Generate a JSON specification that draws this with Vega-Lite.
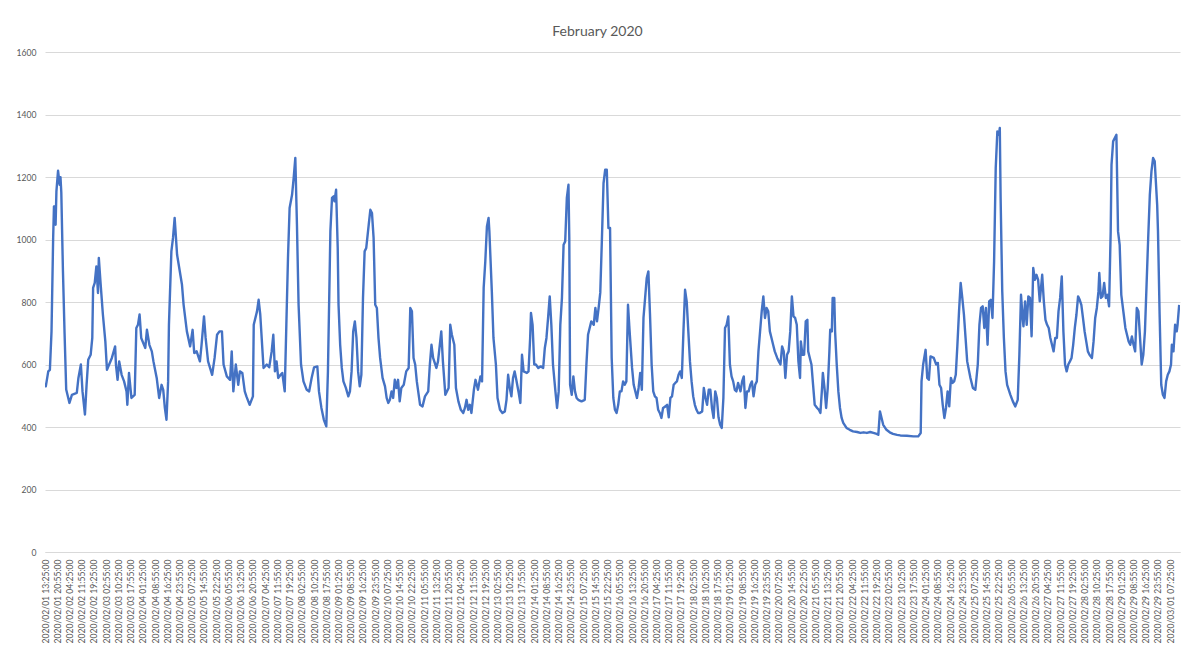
{
"$schema": "https://vega.github.io/schema/vega-lite/v6.json",
"width": 1135,
"height": 500,
"padding": {"left": 15, "top": 25, "right": 15, "bottom": 5},
"background": "white",
"title": {"text": "February 2020", "fontSize": 14, "font": "Lato", "fontWeight": "normal", "color": "#595959", "anchor": "middle", "frame": "bounds", "offset": 9},
"config": {"view": {"stroke": null}, "font": "Lato"},
"data": {"values": [
{"t":"2020-02-01T13:25","v":540},{"t":"2020-02-01T13:55","v":530},{"t":"2020-02-01T15:25","v":578},{"t":"2020-02-01T16:25","v":583},{"t":"2020-02-01T17:25","v":706},{"t":"2020-02-01T18:25","v":1005},{"t":"2020-02-01T18:55","v":1106},{"t":"2020-02-01T19:25","v":1106},{"t":"2020-02-01T19:55","v":1047},{"t":"2020-02-01T20:25","v":1154},{"t":"2020-02-01T21:25","v":1220},{"t":"2020-02-01T22:25","v":1175},{"t":"2020-02-01T22:55","v":1199},{"t":"2020-02-01T23:25","v":1150},
{"t":"2020-02-02T00:25","v":900},{"t":"2020-02-02T01:25","v":700},{"t":"2020-02-02T02:25","v":520},{"t":"2020-02-02T04:25","v":477},{"t":"2020-02-02T05:55","v":503},{"t":"2020-02-02T08:55","v":509},{"t":"2020-02-02T09:55","v":557},{"t":"2020-02-02T11:25","v":600},{"t":"2020-02-02T12:25","v":514},{"t":"2020-02-02T13:55","v":440},{"t":"2020-02-02T14:55","v":535},{"t":"2020-02-02T15:55","v":615},{"t":"2020-02-02T17:25","v":631},{"t":"2020-02-02T18:25","v":685},{"t":"2020-02-02T18:55","v":845},{"t":"2020-02-02T19:55","v":861},{"t":"2020-02-02T20:55","v":914},{"t":"2020-02-02T21:55","v":829},{"t":"2020-02-02T22:25","v":941},{"t":"2020-02-02T23:25","v":866},
{"t":"2020-02-03T00:55","v":760},{"t":"2020-02-03T02:25","v":674},{"t":"2020-02-03T03:25","v":583},{"t":"2020-02-03T06:25","v":621},{"t":"2020-02-03T08:25","v":658},{"t":"2020-02-03T08:55","v":600},{"t":"2020-02-03T09:55","v":551},{"t":"2020-02-03T10:55","v":610},{"t":"2020-02-03T12:25","v":567},{"t":"2020-02-03T13:55","v":546},{"t":"2020-02-03T15:25","v":514},{"t":"2020-02-03T15:55","v":471},{"t":"2020-02-03T16:55","v":573},{"t":"2020-02-03T18:25","v":493},{"t":"2020-02-03T20:25","v":503},{"t":"2020-02-03T21:25","v":717},{"t":"2020-02-03T22:25","v":727},{"t":"2020-02-03T23:25","v":760},
{"t":"2020-02-04T00:25","v":685},{"t":"2020-02-04T02:55","v":653},{"t":"2020-02-04T03:55","v":711},{"t":"2020-02-04T05:25","v":663},{"t":"2020-02-04T06:55","v":642},{"t":"2020-02-04T07:55","v":610},{"t":"2020-02-04T08:55","v":583},{"t":"2020-02-04T09:55","v":557},{"t":"2020-02-04T11:25","v":493},{"t":"2020-02-04T12:55","v":535},{"t":"2020-02-04T13:55","v":519},{"t":"2020-02-04T14:55","v":461},{"t":"2020-02-04T15:55","v":423},{"t":"2020-02-04T16:55","v":546},{"t":"2020-02-04T17:25","v":727},{"t":"2020-02-04T18:55","v":962},{"t":"2020-02-04T19:55","v":1005},{"t":"2020-02-04T20:55","v":1069},{"t":"2020-02-04T22:25","v":951},
{"t":"2020-02-05T01:25","v":855},{"t":"2020-02-05T02:25","v":791},{"t":"2020-02-05T04:25","v":706},{"t":"2020-02-05T06:25","v":658},{"t":"2020-02-05T07:55","v":711},{"t":"2020-02-05T08:55","v":637},{"t":"2020-02-05T10:25","v":642},{"t":"2020-02-05T12:25","v":610},{"t":"2020-02-05T13:25","v":663},{"t":"2020-02-05T14:55","v":754},{"t":"2020-02-05T15:55","v":685},{"t":"2020-02-05T17:25","v":610},{"t":"2020-02-05T19:55","v":567},{"t":"2020-02-05T21:25","v":621},{"t":"2020-02-05T22:55","v":695},
{"t":"2020-02-06T00:25","v":706},{"t":"2020-02-06T01:55","v":706},{"t":"2020-02-06T02:55","v":600},{"t":"2020-02-06T04:55","v":562},{"t":"2020-02-06T06:55","v":551},{"t":"2020-02-06T07:55","v":642},{"t":"2020-02-06T08:55","v":514},{"t":"2020-02-06T10:25","v":600},{"t":"2020-02-06T11:55","v":535},{"t":"2020-02-06T12:55","v":578},{"t":"2020-02-06T14:25","v":573},{"t":"2020-02-06T15:55","v":514},{"t":"2020-02-06T16:55","v":498},{"t":"2020-02-06T18:55","v":471},{"t":"2020-02-06T20:55","v":498},{"t":"2020-02-06T21:25","v":727},{"t":"2020-02-06T23:25","v":770},
{"t":"2020-02-07T00:25","v":807},{"t":"2020-02-07T01:25","v":760},{"t":"2020-02-07T03:25","v":589},{"t":"2020-02-07T05:25","v":600},{"t":"2020-02-07T06:55","v":591},{"t":"2020-02-07T08:25","v":642},{"t":"2020-02-07T09:25","v":695},{"t":"2020-02-07T10:25","v":578},{"t":"2020-02-07T11:25","v":610},{"t":"2020-02-07T12:25","v":557},{"t":"2020-02-07T13:55","v":567},{"t":"2020-02-07T14:55","v":573},{"t":"2020-02-07T16:25","v":514},{"t":"2020-02-07T17:25","v":727},{"t":"2020-02-07T18:25","v":941},{"t":"2020-02-07T19:25","v":1101},{"t":"2020-02-07T20:55","v":1143},{"t":"2020-02-07T21:55","v":1197},{"t":"2020-02-07T22:55","v":1261},{"t":"2020-02-07T23:55","v":1047},
{"t":"2020-02-08T00:55","v":791},{"t":"2020-02-08T02:25","v":600},{"t":"2020-02-08T03:55","v":546},{"t":"2020-02-08T05:55","v":519},{"t":"2020-02-08T07:25","v":514},{"t":"2020-02-08T08:55","v":557},{"t":"2020-02-08T10:25","v":591},{"t":"2020-02-08T12:25","v":594},{"t":"2020-02-08T13:25","v":514},{"t":"2020-02-08T14:55","v":461},{"t":"2020-02-08T16:25","v":423},{"t":"2020-02-08T17:55","v":402},{"t":"2020-02-08T18:55","v":578},{"t":"2020-02-08T20:25","v":1026},{"t":"2020-02-08T21:25","v":1133},{"t":"2020-02-08T22:25","v":1138},{"t":"2020-02-08T22:55","v":1122},{"t":"2020-02-08T23:55","v":1159},
{"t":"2020-02-09T00:55","v":973},{"t":"2020-02-09T01:25","v":791},{"t":"2020-02-09T02:25","v":663},{"t":"2020-02-09T03:25","v":589},{"t":"2020-02-09T04:25","v":546},{"t":"2020-02-09T05:55","v":525},{"t":"2020-02-09T07:25","v":498},{"t":"2020-02-09T08:25","v":514},{"t":"2020-02-09T09:25","v":578},{"t":"2020-02-09T10:25","v":706},{"t":"2020-02-09T11:25","v":738},{"t":"2020-02-09T12:25","v":685},{"t":"2020-02-09T13:25","v":578},{"t":"2020-02-09T14:25","v":530},{"t":"2020-02-09T15:25","v":567},{"t":"2020-02-09T16:25","v":813},{"t":"2020-02-09T17:25","v":962},{"t":"2020-02-09T18:25","v":973},{"t":"2020-02-09T19:55","v":1047},{"t":"2020-02-09T20:55","v":1095},{"t":"2020-02-09T21:55","v":1085},{"t":"2020-02-09T22:55","v":1005},{"t":"2020-02-09T23:55","v":791},
{"t":"2020-02-10T00:55","v":781},{"t":"2020-02-10T01:55","v":685},{"t":"2020-02-10T02:55","v":621},{"t":"2020-02-10T04:25","v":557},{"t":"2020-02-10T05:55","v":530},{"t":"2020-02-10T06:55","v":493},{"t":"2020-02-10T07:55","v":477},{"t":"2020-02-10T08:55","v":487},{"t":"2020-02-10T09:55","v":514},{"t":"2020-02-10T10:55","v":493},{"t":"2020-02-10T11:55","v":551},{"t":"2020-02-10T12:55","v":525},{"t":"2020-02-10T13:55","v":551},{"t":"2020-02-10T14:55","v":482},{"t":"2020-02-10T15:55","v":525},{"t":"2020-02-10T17:25","v":535},{"t":"2020-02-10T18:55","v":578},{"t":"2020-02-10T20:25","v":589},{"t":"2020-02-10T21:25","v":781},{"t":"2020-02-10T22:25","v":770},{"t":"2020-02-10T23:25","v":621},
{"t":"2020-02-11T00:25","v":600},{"t":"2020-02-11T01:25","v":546},{"t":"2020-02-11T03:25","v":471},{"t":"2020-02-11T04:55","v":466},{"t":"2020-02-11T06:25","v":498},{"t":"2020-02-11T08:25","v":514},{"t":"2020-02-11T09:25","v":600},{"t":"2020-02-11T10:25","v":663},{"t":"2020-02-11T11:25","v":621},{"t":"2020-02-11T13:25","v":589},{"t":"2020-02-11T14:25","v":610},{"t":"2020-02-11T16:25","v":706},{"t":"2020-02-11T17:25","v":610},{"t":"2020-02-11T18:55","v":503},{"t":"2020-02-11T20:55","v":525},{"t":"2020-02-11T21:55","v":727},{"t":"2020-02-11T22:55","v":695},
{"t":"2020-02-12T00:25","v":663},{"t":"2020-02-12T01:25","v":525},{"t":"2020-02-12T02:55","v":482},{"t":"2020-02-12T04:25","v":455},{"t":"2020-02-12T05:55","v":445},{"t":"2020-02-12T06:55","v":461},{"t":"2020-02-12T07:55","v":487},{"t":"2020-02-12T08:55","v":455},{"t":"2020-02-12T09:55","v":471},{"t":"2020-02-12T10:55","v":445},{"t":"2020-02-12T12:25","v":519},{"t":"2020-02-12T13:25","v":551},{"t":"2020-02-12T14:55","v":519},{"t":"2020-02-12T16:25","v":562},{"t":"2020-02-12T17:25","v":546},{"t":"2020-02-12T18:25","v":845},{"t":"2020-02-12T19:25","v":930},{"t":"2020-02-12T20:25","v":1042},{"t":"2020-02-12T21:25","v":1069},{"t":"2020-02-12T21:55","v":1026},{"t":"2020-02-12T23:25","v":834},
{"t":"2020-02-13T00:25","v":685},{"t":"2020-02-13T01:55","v":600},{"t":"2020-02-13T02:55","v":493},{"t":"2020-02-13T04:25","v":455},{"t":"2020-02-13T05:55","v":445},{"t":"2020-02-13T07:25","v":450},{"t":"2020-02-13T08:25","v":487},{"t":"2020-02-13T09:25","v":567},{"t":"2020-02-13T10:25","v":525},{"t":"2020-02-13T11:25","v":498},{"t":"2020-02-13T12:25","v":557},{"t":"2020-02-13T13:25","v":578},{"t":"2020-02-13T14:25","v":551},{"t":"2020-02-13T15:55","v":509},{"t":"2020-02-13T16:55","v":477},{"t":"2020-02-13T17:55","v":631},{"t":"2020-02-13T18:55","v":578},{"t":"2020-02-13T20:55","v":573},{"t":"2020-02-13T21:55","v":578},{"t":"2020-02-13T22:55","v":685},{"t":"2020-02-13T23:25","v":765},
{"t":"2020-02-14T00:25","v":727},{"t":"2020-02-14T01:25","v":600},{"t":"2020-02-14T02:25","v":600},{"t":"2020-02-14T03:55","v":589},{"t":"2020-02-14T05:25","v":594},{"t":"2020-02-14T06:55","v":589},{"t":"2020-02-14T07:55","v":653},{"t":"2020-02-14T08:55","v":685},{"t":"2020-02-14T09:55","v":749},{"t":"2020-02-14T10:55","v":818},{"t":"2020-02-14T11:55","v":727},{"t":"2020-02-14T12:55","v":600},{"t":"2020-02-14T14:25","v":514},{"t":"2020-02-14T15:25","v":461},{"t":"2020-02-14T16:25","v":514},{"t":"2020-02-14T17:25","v":727},{"t":"2020-02-14T18:25","v":813},{"t":"2020-02-14T19:25","v":983},{"t":"2020-02-14T20:25","v":994},{"t":"2020-02-14T21:25","v":1133},{"t":"2020-02-14T22:25","v":1175},{"t":"2020-02-14T22:55","v":1005},{"t":"2020-02-14T23:25","v":535},
{"t":"2020-02-15T00:25","v":503},{"t":"2020-02-15T01:25","v":562},{"t":"2020-02-15T02:25","v":514},{"t":"2020-02-15T03:25","v":493},{"t":"2020-02-15T04:25","v":487},{"t":"2020-02-15T06:25","v":482},{"t":"2020-02-15T08:25","v":487},{"t":"2020-02-15T09:25","v":600},{"t":"2020-02-15T10:25","v":695},{"t":"2020-02-15T11:25","v":717},{"t":"2020-02-15T12:25","v":738},{"t":"2020-02-15T13:55","v":727},{"t":"2020-02-15T14:55","v":781},{"t":"2020-02-15T15:55","v":738},{"t":"2020-02-15T16:55","v":781},{"t":"2020-02-15T17:55","v":830},{"t":"2020-02-15T18:55","v":1000},{"t":"2020-02-15T19:55","v":1180},{"t":"2020-02-15T20:55","v":1223},{"t":"2020-02-15T21:55","v":1223},{"t":"2020-02-15T22:55","v":1037},{"t":"2020-02-15T23:55","v":1037},
{"t":"2020-02-16T00:55","v":621},{"t":"2020-02-16T01:55","v":493},{"t":"2020-02-16T02:55","v":455},{"t":"2020-02-16T03:55","v":445},{"t":"2020-02-16T04:55","v":471},{"t":"2020-02-16T05:55","v":514},{"t":"2020-02-16T06:55","v":514},{"t":"2020-02-16T07:55","v":546},{"t":"2020-02-16T08:55","v":535},{"t":"2020-02-16T09:55","v":546},{"t":"2020-02-16T10:55","v":791},{"t":"2020-02-16T11:55","v":706},{"t":"2020-02-16T13:25","v":589},{"t":"2020-02-16T14:25","v":535},{"t":"2020-02-16T15:25","v":514},{"t":"2020-02-16T16:25","v":493},{"t":"2020-02-16T17:25","v":525},{"t":"2020-02-16T18:25","v":573},{"t":"2020-02-16T19:25","v":519},{"t":"2020-02-16T20:25","v":749},{"t":"2020-02-16T21:25","v":813},{"t":"2020-02-16T22:25","v":877},{"t":"2020-02-16T23:25","v":898},
{"t":"2020-02-17T00:25","v":760},{"t":"2020-02-17T01:25","v":600},{"t":"2020-02-17T02:25","v":514},{"t":"2020-02-17T03:25","v":498},{"t":"2020-02-17T04:25","v":493},{"t":"2020-02-17T05:25","v":455},{"t":"2020-02-17T06:25","v":445},{"t":"2020-02-17T07:25","v":429},{"t":"2020-02-17T08:25","v":461},{"t":"2020-02-17T09:55","v":466},{"t":"2020-02-17T10:55","v":471},{"t":"2020-02-17T11:55","v":431},{"t":"2020-02-17T12:55","v":493},{"t":"2020-02-17T13:55","v":498},{"t":"2020-02-17T14:55","v":535},{"t":"2020-02-17T15:55","v":541},{"t":"2020-02-17T16:55","v":546},{"t":"2020-02-17T17:55","v":567},{"t":"2020-02-17T18:55","v":578},{"t":"2020-02-17T19:55","v":557},{"t":"2020-02-17T20:55","v":706},{"t":"2020-02-17T21:55","v":839},{"t":"2020-02-17T22:55","v":802},{"t":"2020-02-17T23:55","v":706},
{"t":"2020-02-18T00:55","v":610},{"t":"2020-02-18T01:55","v":546},{"t":"2020-02-18T02:55","v":498},{"t":"2020-02-18T03:55","v":471},{"t":"2020-02-18T04:55","v":455},{"t":"2020-02-18T05:55","v":445},{"t":"2020-02-18T06:55","v":445},{"t":"2020-02-18T08:25","v":450},{"t":"2020-02-18T09:25","v":525},{"t":"2020-02-18T10:25","v":493},{"t":"2020-02-18T11:25","v":471},{"t":"2020-02-18T12:25","v":519},{"t":"2020-02-18T13:25","v":519},{"t":"2020-02-18T14:25","v":461},{"t":"2020-02-18T15:25","v":429},{"t":"2020-02-18T16:25","v":514},{"t":"2020-02-18T17:25","v":493},{"t":"2020-02-18T18:25","v":431},{"t":"2020-02-18T19:25","v":407},{"t":"2020-02-18T20:25","v":397},{"t":"2020-02-18T21:25","v":493},{"t":"2020-02-18T22:25","v":717},{"t":"2020-02-18T23:25","v":727},
{"t":"2020-02-19T00:25","v":754},{"t":"2020-02-19T01:25","v":600},{"t":"2020-02-19T02:25","v":562},{"t":"2020-02-19T03:25","v":546},{"t":"2020-02-19T04:25","v":519},{"t":"2020-02-19T05:25","v":514},{"t":"2020-02-19T06:25","v":541},{"t":"2020-02-19T07:55","v":514},{"t":"2020-02-19T08:55","v":546},{"t":"2020-02-19T09:55","v":562},{"t":"2020-02-19T10:55","v":461},{"t":"2020-02-19T11:55","v":514},{"t":"2020-02-19T12:55","v":514},{"t":"2020-02-19T13:55","v":535},{"t":"2020-02-19T14:55","v":546},{"t":"2020-02-19T15:55","v":498},{"t":"2020-02-19T16:55","v":535},{"t":"2020-02-19T17:55","v":546},{"t":"2020-02-19T18:55","v":642},{"t":"2020-02-19T19:55","v":706},{"t":"2020-02-19T20:55","v":770},{"t":"2020-02-19T21:55","v":818},{"t":"2020-02-19T22:55","v":749},{"t":"2020-02-19T23:55","v":781},
{"t":"2020-02-20T00:55","v":770},{"t":"2020-02-20T01:55","v":706},{"t":"2020-02-20T02:55","v":685},{"t":"2020-02-20T03:55","v":663},{"t":"2020-02-20T04:55","v":642},{"t":"2020-02-20T06:25","v":621},{"t":"2020-02-20T07:25","v":610},{"t":"2020-02-20T08:25","v":600},{"t":"2020-02-20T09:25","v":658},{"t":"2020-02-20T10:25","v":642},{"t":"2020-02-20T11:25","v":557},{"t":"2020-02-20T12:25","v":631},{"t":"2020-02-20T13:25","v":642},{"t":"2020-02-20T14:25","v":706},{"t":"2020-02-20T15:25","v":818},{"t":"2020-02-20T16:25","v":754},{"t":"2020-02-20T17:25","v":749},{"t":"2020-02-20T18:25","v":727},{"t":"2020-02-20T19:25","v":610},{"t":"2020-02-20T20:25","v":557},{"t":"2020-02-20T20:55","v":674},{"t":"2020-02-20T21:55","v":631},{"t":"2020-02-20T22:55","v":631},{"t":"2020-02-20T23:55","v":738},
{"t":"2020-02-21T00:55","v":743},{"t":"2020-02-21T01:25","v":642},{"t":"2020-02-21T02:25","v":621},{"t":"2020-02-21T03:25","v":600},{"t":"2020-02-21T04:25","v":535},{"t":"2020-02-21T05:25","v":471},{"t":"2020-02-21T06:55","v":461},{"t":"2020-02-21T07:55","v":455},{"t":"2020-02-21T08:55","v":445},{"t":"2020-02-21T09:55","v":525},{"t":"2020-02-21T10:25","v":573},{"t":"2020-02-21T11:25","v":525},{"t":"2020-02-21T12:25","v":461},{"t":"2020-02-21T13:25","v":525},{"t":"2020-02-21T14:25","v":642},{"t":"2020-02-21T14:55","v":711},{"t":"2020-02-21T15:55","v":706},{"t":"2020-02-21T16:25","v":813},{"t":"2020-02-21T17:25","v":813},{"t":"2020-02-21T17:55","v":706},{"t":"2020-02-21T18:55","v":600},{"t":"2020-02-21T19:55","v":514},{"t":"2020-02-21T20:55","v":461},{"t":"2020-02-21T21:55","v":429},{"t":"2020-02-21T22:55","v":413},
{"t":"2020-02-22T00:55","v":397},{"t":"2020-02-22T02:55","v":391},{"t":"2020-02-22T04:55","v":386},{"t":"2020-02-22T07:25","v":384},{"t":"2020-02-22T09:25","v":381},{"t":"2020-02-22T11:25","v":383},{"t":"2020-02-22T13:25","v":381},{"t":"2020-02-22T15:25","v":384},{"t":"2020-02-22T17:25","v":381},{"t":"2020-02-22T19:25","v":378},{"t":"2020-02-22T20:25","v":375},{"t":"2020-02-22T21:25","v":450},{"t":"2020-02-22T22:25","v":429},{"t":"2020-02-22T23:25","v":407},
{"t":"2020-02-23T01:25","v":391},{"t":"2020-02-23T03:25","v":383},{"t":"2020-02-23T05:25","v":378},{"t":"2020-02-23T07:55","v":375},{"t":"2020-02-23T09:55","v":373},{"t":"2020-02-23T13:55","v":372},{"t":"2020-02-23T17:55","v":370},{"t":"2020-02-23T20:55","v":370},{"t":"2020-02-23T22:25","v":381},{"t":"2020-02-23T22:55","v":546},{"t":"2020-02-23T23:55","v":600},
{"t":"2020-02-24T01:25","v":647},{"t":"2020-02-24T02:25","v":557},{"t":"2020-02-24T03:25","v":551},{"t":"2020-02-24T04:25","v":626},{"t":"2020-02-24T06:25","v":621},{"t":"2020-02-24T07:55","v":600},{"t":"2020-02-24T08:55","v":605},{"t":"2020-02-24T09:55","v":535},{"t":"2020-02-24T10:55","v":525},{"t":"2020-02-24T11:55","v":471},{"t":"2020-02-24T12:55","v":429},{"t":"2020-02-24T13:55","v":461},{"t":"2020-02-24T14:55","v":514},{"t":"2020-02-24T15:55","v":466},{"t":"2020-02-24T16:55","v":557},{"t":"2020-02-24T17:55","v":541},{"t":"2020-02-24T18:55","v":546},{"t":"2020-02-24T19:55","v":567},{"t":"2020-02-24T20:55","v":663},{"t":"2020-02-24T21:55","v":770},{"t":"2020-02-24T22:55","v":861},{"t":"2020-02-24T23:55","v":813},
{"t":"2020-02-25T00:55","v":760},{"t":"2020-02-25T01:55","v":685},{"t":"2020-02-25T02:55","v":610},{"t":"2020-02-25T04:55","v":557},{"t":"2020-02-25T06:25","v":525},{"t":"2020-02-25T07:55","v":519},{"t":"2020-02-25T09:25","v":600},{"t":"2020-02-25T10:25","v":727},{"t":"2020-02-25T11:25","v":781},{"t":"2020-02-25T12:25","v":786},{"t":"2020-02-25T13:25","v":717},{"t":"2020-02-25T14:25","v":781},{"t":"2020-02-25T15:25","v":663},{"t":"2020-02-25T16:25","v":802},{"t":"2020-02-25T17:25","v":807},{"t":"2020-02-25T18:25","v":749},{"t":"2020-02-25T19:25","v":930},{"t":"2020-02-25T20:25","v":1229},{"t":"2020-02-25T21:25","v":1346},{"t":"2020-02-25T22:25","v":1335},{"t":"2020-02-25T22:55","v":1357},{"t":"2020-02-25T23:25","v":1133},
{"t":"2020-02-26T00:25","v":834},{"t":"2020-02-26T01:25","v":685},{"t":"2020-02-26T02:25","v":578},{"t":"2020-02-26T03:25","v":535},{"t":"2020-02-26T05:25","v":503},{"t":"2020-02-26T06:55","v":482},{"t":"2020-02-26T08:25","v":466},{"t":"2020-02-26T09:55","v":487},{"t":"2020-02-26T10:55","v":631},{"t":"2020-02-26T11:55","v":823},{"t":"2020-02-26T12:55","v":749},{"t":"2020-02-26T13:25","v":722},{"t":"2020-02-26T14:25","v":802},{"t":"2020-02-26T15:25","v":727},{"t":"2020-02-26T16:25","v":818},{"t":"2020-02-26T17:25","v":813},{"t":"2020-02-26T18:25","v":690},{"t":"2020-02-26T19:25","v":909},{"t":"2020-02-26T20:25","v":871},{"t":"2020-02-26T21:25","v":887},{"t":"2020-02-26T22:25","v":871},{"t":"2020-02-26T23:25","v":802},
{"t":"2020-02-27T00:55","v":887},{"t":"2020-02-27T01:55","v":802},{"t":"2020-02-27T02:55","v":743},{"t":"2020-02-27T03:55","v":727},{"t":"2020-02-27T04:55","v":717},{"t":"2020-02-27T05:55","v":685},{"t":"2020-02-27T06:55","v":663},{"t":"2020-02-27T07:55","v":642},{"t":"2020-02-27T08:55","v":685},{"t":"2020-02-27T09:55","v":685},{"t":"2020-02-27T10:55","v":770},{"t":"2020-02-27T11:55","v":813},{"t":"2020-02-27T12:55","v":882},{"t":"2020-02-27T13:55","v":706},{"t":"2020-02-27T14:55","v":600},{"t":"2020-02-27T15:55","v":578},{"t":"2020-02-27T16:55","v":600},{"t":"2020-02-27T17:55","v":610},{"t":"2020-02-27T18:55","v":621},{"t":"2020-02-27T19:55","v":663},{"t":"2020-02-27T20:55","v":717},{"t":"2020-02-27T21:55","v":760},{"t":"2020-02-27T22:55","v":818},{"t":"2020-02-27T23:55","v":807},
{"t":"2020-02-28T00:55","v":791},{"t":"2020-02-28T01:55","v":749},{"t":"2020-02-28T02:55","v":706},{"t":"2020-02-28T03:55","v":674},{"t":"2020-02-28T04:55","v":642},{"t":"2020-02-28T05:55","v":631},{"t":"2020-02-28T07:25","v":621},{"t":"2020-02-28T08:25","v":674},{"t":"2020-02-28T09:25","v":749},{"t":"2020-02-28T10:25","v":781},{"t":"2020-02-28T11:25","v":834},{"t":"2020-02-28T11:55","v":893},{"t":"2020-02-28T12:55","v":813},{"t":"2020-02-28T13:55","v":818},{"t":"2020-02-28T14:55","v":861},{"t":"2020-02-28T15:55","v":813},{"t":"2020-02-28T16:55","v":823},{"t":"2020-02-28T17:55","v":786},{"t":"2020-02-28T18:55","v":1026},{"t":"2020-02-28T19:25","v":1239},{"t":"2020-02-28T20:25","v":1314},{"t":"2020-02-28T21:25","v":1325},{"t":"2020-02-28T22:25","v":1335},{"t":"2020-02-28T23:25","v":1026},
{"t":"2020-02-29T00:25","v":983},{"t":"2020-02-29T01:25","v":823},{"t":"2020-02-29T02:55","v":760},{"t":"2020-02-29T03:55","v":717},{"t":"2020-02-29T04:55","v":695},{"t":"2020-02-29T05:55","v":674},{"t":"2020-02-29T06:55","v":663},{"t":"2020-02-29T07:55","v":690},{"t":"2020-02-29T08:55","v":663},{"t":"2020-02-29T09:55","v":642},{"t":"2020-02-29T10:55","v":781},{"t":"2020-02-29T11:55","v":770},{"t":"2020-02-29T12:55","v":685},{"t":"2020-02-29T13:55","v":600},{"t":"2020-02-29T14:55","v":631},{"t":"2020-02-29T15:55","v":706},{"t":"2020-02-29T16:55","v":855},{"t":"2020-02-29T17:55","v":1005},{"t":"2020-02-29T18:55","v":1143},{"t":"2020-02-29T19:55","v":1218},{"t":"2020-02-29T20:55","v":1261},{"t":"2020-02-29T21:55","v":1250},{"t":"2020-02-29T23:25","v":1111},{"t":"2020-02-29T23:55","v":1026},
{"t":"2020-03-01T00:55","v":760},{"t":"2020-03-01T01:55","v":535},{"t":"2020-03-01T02:55","v":503},{"t":"2020-03-01T03:55","v":493},{"t":"2020-03-01T04:55","v":546},{"t":"2020-03-01T05:55","v":567},{"t":"2020-03-01T06:55","v":578},{"t":"2020-03-01T07:55","v":600},{"t":"2020-03-01T08:25","v":663},{"t":"2020-03-01T09:25","v":642},{"t":"2020-03-01T10:25","v":727},{"t":"2020-03-01T11:25","v":706},{"t":"2020-03-01T11:55","v":727},{"t":"2020-03-01T12:55","v":791}
]},
"mark": {"type": "line", "color": "#4472C4", "strokeWidth": 2.4, "strokeJoin": "round", "clip": true},
"encoding": {
"x": {"field": "t", "type": "temporal",
"scale": {"domain": [{"year":2020,"month":2,"date":1,"hours":13,"minutes":25},{"year":2020,"month":3,"date":1,"hours":13,"minutes":25}]},
"axis": {"title": null, "format": "%Y/%m/%d %H:%M:%S", "labelAngle": -90, "labelAlign": "right", "labelBaseline": "middle", "labelFontSize": 8.6, "labelColor": "#595959", "labelPadding": 7, "ticks": false, "grid": false, "domainColor": "#D9D9D9", "labelOverlap": false, "labelFlush": false, "labelBound": false,
"values": [
{"year":2020,"month":2,"date":1,"hours":13,"minutes":25},{"year":2020,"month":2,"date":1,"hours":20,"minutes":55},{"year":2020,"month":2,"date":2,"hours":4,"minutes":25},{"year":2020,"month":2,"date":2,"hours":11,"minutes":55},{"year":2020,"month":2,"date":2,"hours":19,"minutes":25},{"year":2020,"month":2,"date":3,"hours":2,"minutes":55},{"year":2020,"month":2,"date":3,"hours":10,"minutes":25},{"year":2020,"month":2,"date":3,"hours":17,"minutes":55},
{"year":2020,"month":2,"date":4,"hours":1,"minutes":25},{"year":2020,"month":2,"date":4,"hours":8,"minutes":55},{"year":2020,"month":2,"date":4,"hours":16,"minutes":25},{"year":2020,"month":2,"date":4,"hours":23,"minutes":55},{"year":2020,"month":2,"date":5,"hours":7,"minutes":25},{"year":2020,"month":2,"date":5,"hours":14,"minutes":55},{"year":2020,"month":2,"date":5,"hours":22,"minutes":25},{"year":2020,"month":2,"date":6,"hours":5,"minutes":55},
{"year":2020,"month":2,"date":6,"hours":13,"minutes":25},{"year":2020,"month":2,"date":6,"hours":20,"minutes":55},{"year":2020,"month":2,"date":7,"hours":4,"minutes":25},{"year":2020,"month":2,"date":7,"hours":11,"minutes":55},{"year":2020,"month":2,"date":7,"hours":19,"minutes":25},{"year":2020,"month":2,"date":8,"hours":2,"minutes":55},{"year":2020,"month":2,"date":8,"hours":10,"minutes":25},{"year":2020,"month":2,"date":8,"hours":17,"minutes":55},
{"year":2020,"month":2,"date":9,"hours":1,"minutes":25},{"year":2020,"month":2,"date":9,"hours":8,"minutes":55},{"year":2020,"month":2,"date":9,"hours":16,"minutes":25},{"year":2020,"month":2,"date":9,"hours":23,"minutes":55},{"year":2020,"month":2,"date":10,"hours":7,"minutes":25},{"year":2020,"month":2,"date":10,"hours":14,"minutes":55},{"year":2020,"month":2,"date":10,"hours":22,"minutes":25},{"year":2020,"month":2,"date":11,"hours":5,"minutes":55},
{"year":2020,"month":2,"date":11,"hours":13,"minutes":25},{"year":2020,"month":2,"date":11,"hours":20,"minutes":55},{"year":2020,"month":2,"date":12,"hours":4,"minutes":25},{"year":2020,"month":2,"date":12,"hours":11,"minutes":55},{"year":2020,"month":2,"date":12,"hours":19,"minutes":25},{"year":2020,"month":2,"date":13,"hours":2,"minutes":55},{"year":2020,"month":2,"date":13,"hours":10,"minutes":25},{"year":2020,"month":2,"date":13,"hours":17,"minutes":55},
{"year":2020,"month":2,"date":14,"hours":1,"minutes":25},{"year":2020,"month":2,"date":14,"hours":8,"minutes":55},{"year":2020,"month":2,"date":14,"hours":16,"minutes":25},{"year":2020,"month":2,"date":14,"hours":23,"minutes":55},{"year":2020,"month":2,"date":15,"hours":7,"minutes":25},{"year":2020,"month":2,"date":15,"hours":14,"minutes":55},{"year":2020,"month":2,"date":15,"hours":22,"minutes":25},{"year":2020,"month":2,"date":16,"hours":5,"minutes":55},
{"year":2020,"month":2,"date":16,"hours":13,"minutes":25},{"year":2020,"month":2,"date":16,"hours":20,"minutes":55},{"year":2020,"month":2,"date":17,"hours":4,"minutes":25},{"year":2020,"month":2,"date":17,"hours":11,"minutes":55},{"year":2020,"month":2,"date":17,"hours":19,"minutes":25},{"year":2020,"month":2,"date":18,"hours":2,"minutes":55},{"year":2020,"month":2,"date":18,"hours":10,"minutes":25},{"year":2020,"month":2,"date":18,"hours":17,"minutes":55},
{"year":2020,"month":2,"date":19,"hours":1,"minutes":25},{"year":2020,"month":2,"date":19,"hours":8,"minutes":55},{"year":2020,"month":2,"date":19,"hours":16,"minutes":25},{"year":2020,"month":2,"date":19,"hours":23,"minutes":55},{"year":2020,"month":2,"date":20,"hours":7,"minutes":25},{"year":2020,"month":2,"date":20,"hours":14,"minutes":55},{"year":2020,"month":2,"date":20,"hours":22,"minutes":25},{"year":2020,"month":2,"date":21,"hours":5,"minutes":55},
{"year":2020,"month":2,"date":21,"hours":13,"minutes":25},{"year":2020,"month":2,"date":21,"hours":20,"minutes":55},{"year":2020,"month":2,"date":22,"hours":4,"minutes":25},{"year":2020,"month":2,"date":22,"hours":11,"minutes":55},{"year":2020,"month":2,"date":22,"hours":19,"minutes":25},{"year":2020,"month":2,"date":23,"hours":2,"minutes":55},{"year":2020,"month":2,"date":23,"hours":10,"minutes":25},{"year":2020,"month":2,"date":23,"hours":17,"minutes":55},
{"year":2020,"month":2,"date":24,"hours":1,"minutes":25},{"year":2020,"month":2,"date":24,"hours":8,"minutes":55},{"year":2020,"month":2,"date":24,"hours":16,"minutes":25},{"year":2020,"month":2,"date":24,"hours":23,"minutes":55},{"year":2020,"month":2,"date":25,"hours":7,"minutes":25},{"year":2020,"month":2,"date":25,"hours":14,"minutes":55},{"year":2020,"month":2,"date":25,"hours":22,"minutes":25},{"year":2020,"month":2,"date":26,"hours":5,"minutes":55},
{"year":2020,"month":2,"date":26,"hours":13,"minutes":25},{"year":2020,"month":2,"date":26,"hours":20,"minutes":55},{"year":2020,"month":2,"date":27,"hours":4,"minutes":25},{"year":2020,"month":2,"date":27,"hours":11,"minutes":55},{"year":2020,"month":2,"date":27,"hours":19,"minutes":25},{"year":2020,"month":2,"date":28,"hours":2,"minutes":55},{"year":2020,"month":2,"date":28,"hours":10,"minutes":25},{"year":2020,"month":2,"date":28,"hours":17,"minutes":55},
{"year":2020,"month":2,"date":29,"hours":1,"minutes":25},{"year":2020,"month":2,"date":29,"hours":8,"minutes":55},{"year":2020,"month":2,"date":29,"hours":16,"minutes":25},{"year":2020,"month":2,"date":29,"hours":23,"minutes":55},{"year":2020,"month":3,"date":1,"hours":7,"minutes":25}
]}},
"y": {"field": "v", "type": "quantitative",
"scale": {"domain": [0, 1600], "nice": false, "zero": true},
"axis": {"title": null, "format": "d", "values": [0,200,400,600,800,1000,1200,1400,1600], "domain": false, "ticks": false, "labelColor": "#595959", "labelFontSize": 8.6, "labelPadding": 9, "gridColor": "#D9D9D9", "gridWidth": 1, "minExtent": 30, "maxExtent": 30}}
}
}
